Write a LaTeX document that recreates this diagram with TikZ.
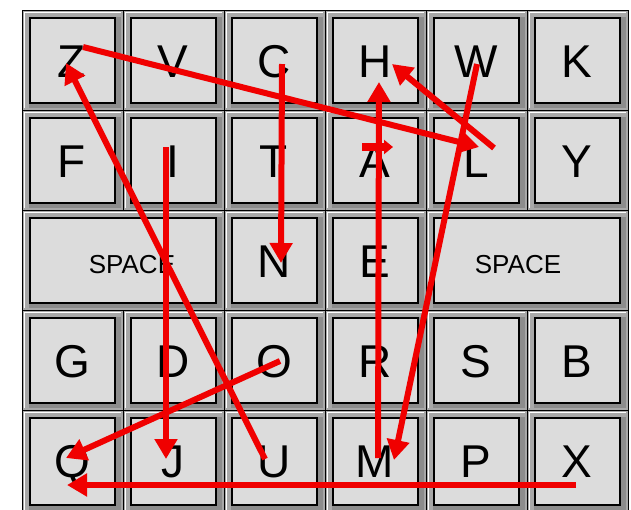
\documentclass[tikz,border=0pt]{standalone}
\usepackage{fontspec}
\setmainfont{Liberation Sans}
\usetikzlibrary{arrows.meta}
\definecolor{keyface}{HTML}{DCDCDC}
\definecolor{keyedge}{HTML}{A8A8A8}
\definecolor{keyshade}{HTML}{8C8C8C}
\definecolor{redline}{HTML}{F00000}
\tikzset{
  letter/.style={anchor=base, inner sep=0pt, font=\fontsize{46}{46}\selectfont},
  spacetext/.style={anchor=base, inner sep=0pt, font=\fontsize{26}{26}\selectfont},
  redarrow/.style={draw=redline, line width=6pt, -{Triangle[length=20pt,width=22pt]}},
}
% \kcap{x0}{y0}{x1}{y1}
\newcommand\kcap[4]{%
  \fill[keyedge] (#1,#2) rectangle (#3,#4);
  \fill[keyshade] (#1+7,#4-7) rectangle (#3-2,#4-2);
  \fill[keyshade] (#3-7,#2+7) rectangle (#3-2,#4-2);
  \draw[white, line width=1pt] (#1+2,#4-2) -- (#1+2,#2+2) -- (#3-2,#2+2);
  \draw[black, line width=1pt] (#1,#2) rectangle (#3,#4);
  \draw[black, line width=1.4pt, fill=keyface] (#1+8,#2+8) rectangle (#3-8,#4-7);
}
\begin{document}
\begin{tikzpicture}[x=1pt,y=-1pt]
\useasboundingbox (0,0) rectangle (631,509);
\fill[white] (0,0) rectangle (631,509);
\begin{scope}
\clip (0,0) rectangle (631,509);
% rows 0,1,3,4 : six keys
\foreach \r/\ya/\yb in {0/10/110,1/110/210,3/310/410,4/410/512}{
  \foreach \xa/\xb in {22/123,123/224,224/325,325/426,426/527,527/628}{
    \kcap{\xa}{\ya}{\xb}{\yb}
  }
}
% row 2
\kcap{22}{210}{224}{310}
\kcap{224}{210}{325}{310}
\kcap{325}{210}{426}{310}
\kcap{426}{210}{628}{310}
\end{scope}
% letters
\node[letter] (Z) at (72,77) {Z};
\node[letter] (V) at (173,77) {V};
\node[letter] (C) at (274,77) {C};
\node[letter] (H) at (375,77) {H};
\node[letter] (W) at (476,77) {W};
\node[letter] (K) at (577,77) {K};
\node[letter] (F) at (72,177) {F};
\node[letter] (I) at (173,177) {I};
\node[letter] (T) at (274,177) {T};
\node[letter] (A) at (375,177) {A};
\node[letter] (L) at (476,177) {L};
\node[letter] (Y) at (577,177) {Y};
\node[spacetext] (S1) at (132,273) {SPACE};
\node[letter] (N) at (274,277) {N};
\node[letter] (E) at (375,277) {E};
\node[spacetext] (S2) at (518,273) {SPACE};
\node[letter] (G) at (72,377) {G};
\node[letter] (D) at (173,377) {D};
\node[letter] (O) at (274,377) {O};
\node[letter] (R) at (375,377) {R};
\node[letter] (S) at (476,377) {S};
\node[letter] (B) at (577,377) {B};
\node[letter] (Q) at (72,477) {Q};
\node[letter] (J) at (173,477) {J};
\node[letter] (U) at (274,477) {U};
\node[letter] (M) at (375,477) {M};
\node[letter] (P) at (476,477) {P};
\node[letter] (X) at (577,477) {X};
% arrow end points
\coordinate (zs) at (83,47);   \coordinate (le) at (479,147);
\coordinate (ls) at (494,148); \coordinate (he1) at (392,64);
\coordinate (ms) at (378,458); \coordinate (he2) at (379,82);
\coordinate (ws) at (477,64);  \coordinate (me) at (394,460);
\coordinate (cs) at (282,64);  \coordinate (ne) at (281,263);
\coordinate (is) at (166,147); \coordinate (je) at (166,459);
\coordinate (us) at (265,459); \coordinate (ze) at (66,63);
\coordinate (os) at (280,361); \coordinate (qe1) at (66,458);
\coordinate (xs) at (576,485); \coordinate (qe2) at (67,485);
\coordinate (fa) at (362,147); \coordinate (fb) at (393,147);
% arrows
\draw[redarrow] (zs) -- (le);
\draw[redarrow] (ls) -- (he1);
\draw[redarrow] (ms) -- (he2);
\draw[redarrow] (ws) -- (me);
\draw[redarrow] (cs) -- (ne);
\draw[redarrow] (is) -- (je);
\draw[redarrow] (us) -- (ze);
\draw[redarrow] (os) -- (qe1);
\draw[redarrow] (xs) -- (qe2);
\draw[draw=redline, line width=8pt, -{Triangle[length=9pt,width=14pt]}] (fa) -- (fb);
\end{tikzpicture}
\end{document}
